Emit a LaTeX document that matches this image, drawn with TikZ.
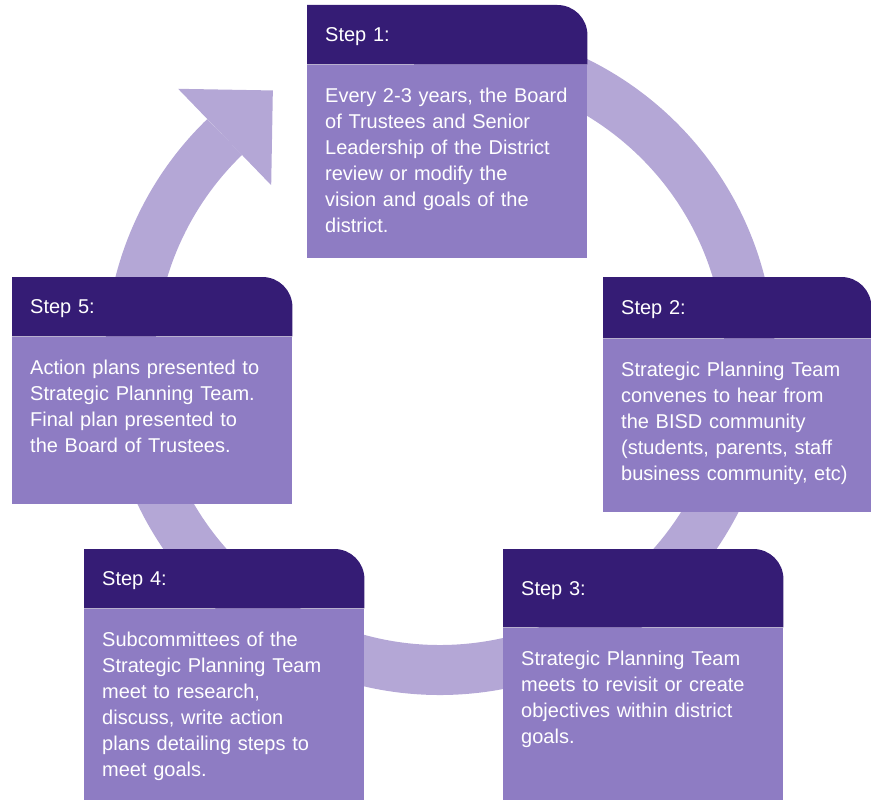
\documentclass[tikz,border=0pt]{standalone}
\usepackage{fontspec}
\setmainfont{Liberation Sans}
\usetikzlibrary{positioning, calc}
\definecolor{plan_dark}{HTML}{351C75}
\definecolor{plan_mid}{HTML}{8E7CC3}
\definecolor{plan_light}{HTML}{B4A7D6}
\colorlet{plandark}{plan_dark}
\tikzset{
  stephead/.style={anchor=north west,minimum width=280pt,minimum height=59pt,text width=244pt,
    inner xsep=18pt,inner ysep=0pt,text height=14pt,text depth=0pt,align=left,text=white,
    font=\fontsize{20}{26}\selectfont},
  stepbody/.style={fill=plan_mid,text width=244pt,inner xsep=18pt,inner ysep=0pt,text height=38pt,
    align=left,text=white,font=\fontsize{20}{26}\selectfont},
  ringband/.style={draw=plan_light,line width=50pt},
  ringhead/.style={fill=plan_light},
}
\pgfdeclarelayer{back}
\pgfsetlayers{back,main}

\begin{document}
\begin{tikzpicture}[x=1pt,y=1pt]
	    \useasboundingbox (0,0) rectangle (871,-800);
	    \coordinate (ctr) at (440,-360);
	    \node[stephead] (h1) at (307,-5) {Step 1:};
	    \node[stepbody,below=0pt of h1.south west,anchor=north west,text depth=155pt] (b1)
	    	{Every 2-3 years, the Board\\of Trustees and Senior\\Leadership of the District\\review or modify the\\vision and goals of the\\district.};
	    \node[stephead,minimum width=268pt,text width=232pt,minimum height=61pt] (h2) at (603,-277) {Step 2:};
	    \node[stepbody,text width=232pt,below=0pt of h2.south west,anchor=north west,text depth=135pt] (b2)
	    	{Strategic Planning Team\\convenes to hear from\\the BISD community\\(students, parents, staff\\business community, etc)};
	    \node[stephead,minimum height=78pt] (h3) at (503,-549) {Step 3:};
	    \node[stepbody,below=0pt of h3.south west,anchor=north west,text depth=135pt] (b3)
	    	{Strategic Planning Team\\meets to revisit or create\\objectives within district\\goals.};
	    \node[stephead] (h4) at (84,-549) {Step 4:};
	    \node[stepbody,below=0pt of h4.south west,anchor=north west,text depth=154pt] (b4)
	    	{Subcommittees of the\\Strategic Planning Team\\meet to research,\\discuss, write action\\plans detailing steps to\\meet goals.};
	    \node[stephead] (h5) at (12,-277) {Step 5:};
	    \node[stepbody,below=0pt of h5.south west,anchor=north west,text depth=129pt] (b5)
	    	{Action plans presented to\\Strategic Planning Team.\\Final plan presented to\\the Board of Trustees.};
	    \begin{pgfonlayer}{back}
	    	\draw[ringband] ($(ctr)+(95:310)$) arc[start angle=95,end angle=-226,radius=310] coordinate (cend);
	    	\fill[ringhead] ($(cend)+(134:67)$) -- ($(cend)+(44:67)$) -- ($(cend)+(-46:67)$) -- cycle;
	    	\foreach \n in {1,...,5}
	    		\fill[plandark] (h\n.south west) |- ($(h\n.north east)+(-30,0)$)
	    			arc[start angle=90,end angle=0,radius=30] -- (h\n.south east) -- cycle;
	    \end{pgfonlayer}
	\end{tikzpicture}
\end{document}
